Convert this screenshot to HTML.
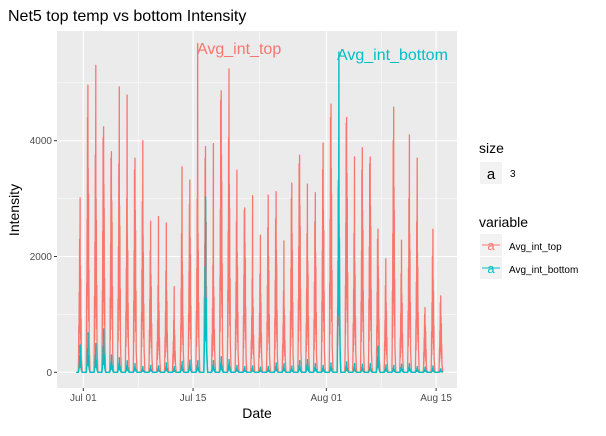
<!DOCTYPE html>
<html><head><meta charset="utf-8"><style>
body{margin:0;background:#fff;font-family:"Liberation Sans",Arial,sans-serif}
svg text{font-family:"Liberation Sans",Arial,sans-serif}
</style></head><body>
<svg id="chart" width="606" height="431">
<text x="8" y="21" font-size="16" fill="#000">Net5 top temp vs bottom Intensity</text>
<rect x="57" y="31" width="400" height="357" fill="#ebebeb"/>
<g id="grid"></g>
<g id="series"></g>
<g id="axes"></g>
<text x="197" y="54" font-size="16" fill="#F8766D">Avg_int_top</text>
<text x="337" y="60" font-size="16" fill="#00BFC4">Avg_int_bottom</text>
<text x="257" y="418" font-size="14" text-anchor="middle">Date</text>
<text x="19" y="210" font-size="14" text-anchor="middle" transform="rotate(-90 19 210)">Intensity</text>
<g>
<text x="479" y="153" font-size="14">size</text>
<rect x="480" y="162" width="22" height="22" fill="#f2f2f2"/>
<text x="491" y="179" font-size="15" text-anchor="middle">a</text>
<text x="510" y="177" font-size="10">3</text>
<text x="479" y="227" font-size="14">variable</text>
<g>
<rect x="480" y="234" width="22" height="22" fill="#f2f2f2"/>
<line x1="482" y1="245" x2="500" y2="245" stroke="#F8766D" stroke-width="1"/>
<text x="491" y="250" font-size="13" text-anchor="middle" fill="#F8766D">a</text>
<text x="509" y="250" font-size="10">Avg_int_top</text></g>
<g>
<rect x="480" y="257" width="22" height="22" fill="#f2f2f2"/>
<line x1="482" y1="268" x2="500" y2="268" stroke="#00BFC4" stroke-width="1"/>
<text x="491" y="273" font-size="13" text-anchor="middle" fill="#00BFC4">a</text>
<text x="509" y="273" font-size="10">Avg_int_bottom</text></g>
</g>
</svg>
<script>
// days starting Jun 30 (day index 0)
const topPeaks=[3010,4960,5300,4240,3810,4930,4790,3700,4000,2610,2690,2580,1480,3550,3320,5680,3900,3950,4860,5240,3490,2840,3050,2370,3060,3120,2270,3270,3750,3250,3100,3960,4630,2720,4400,3720,3880,3720,2470,1960,4580,2280,4100,3700,1120,2470,1320];
const topSecond=[2300,4400,3750,4050,3700,3600,3000,3500,2950,2100,1500,1750,900,2400,2900,3000,3700,1850,4700,4050,2600,2800,1600,1700,2500,2650,1400,3000,3600,2400,2600,3500,4400,3200,4300,2400,3500,3600,2300,1500,4000,1700,3000,2600,1000,2000,1200];
const botPeaks=[470,680,500,750,300,250,200,150,100,120,110,160,100,190,210,200,3030,200,270,220,120,100,110,90,100,160,150,110,200,220,150,120,160,5530,180,150,140,150,450,130,120,140,150,100,90,110,60];
const yTicks=[0,2000,4000];
const xTickLabels=["Jul 01","Jul 15","Aug 01","Aug 15"];
const xTickDays=[1,15,32,46];

const x0=57,x1=457,y0=372.3;
function xs(d){return 83.3+(d-1)*7.84;}
function ys(v){return y0-v*0.0579;}
const NS="http://www.w3.org/2000/svg";
function mk(t,a,p){const e=document.createElementNS(NS,t);for(const k in a)e.setAttribute(k,a[k]);p.appendChild(e);return e;}
const grid=document.getElementById('grid'),axes=document.getElementById('axes'),ser=document.getElementById('series');
[1000,3000,5000].forEach(v=>{const l=mk('line',{x1:x0,x2:x1,y1:ys(v),y2:ys(v),stroke:'#fff','stroke-width':0.5},grid);

});
[8,23.5,39].forEach(d=>{const l=mk('line',{x1:xs(d),x2:xs(d),y1:31,y2:388,stroke:'#fff','stroke-width':0.5},grid);

});
yTicks.forEach(v=>{const l=mk('line',{x1:x0,x2:x1,y1:ys(v),y2:ys(v),stroke:'#fff','stroke-width':1.1},grid);


mk('line',{x1:x0-3,x2:x0,y1:ys(v),y2:ys(v),stroke:'#333'},axes);
const t=mk('text',{x:x0-5,y:ys(v)+3.5,'font-size':10,'text-anchor':'end',fill:'#4d4d4d'},axes);t.textContent=v;

});
xTickDays.forEach((d,i)=>{const l=mk('line',{x1:xs(d),x2:xs(d),y1:31,y2:388,stroke:'#fff','stroke-width':1.1},grid);


mk('line',{x1:xs(d),x2:xs(d),y1:388,y2:391,stroke:'#333'},axes);
const t=mk('text',{x:xs(d),y:401,'font-size':10,'text-anchor':'middle',fill:'#4d4d4d'},axes);t.textContent=xTickLabels[i];

});
function path(peaks,sec,color,w,name,dense){
  let pts=[];
  peaks.forEach((p,i)=>{const s=sec?sec[i]:p*0.6;const d=i+0.1;
    const seq=dense?[[0,0],[0.26,0],[0.3,p*0.1],[0.33,s*0.35],[0.35,s*0.15],[0.38,s*0.6],[0.4,s*0.3],[0.43,s],[0.45,s*0.35],[0.47,p*0.55],[0.49,p],[0.51,p*0.3],[0.53,s*0.8],[0.55,s*0.25],[0.57,s*0.7],[0.59,s*0.2],[0.62,s*0.4],[0.65,p*0.1],[0.7,p*0.05],[0.76,0]]
      :[[0,0],[0.28,0],[0.35,p*0.15],[0.4,s*0.4],[0.44,s],[0.47,s*0.3],[0.5,p],[0.53,p*0.2],[0.57,s*0.7],[0.62,s*0.25],[0.66,p*0.08],[0.75,0]];
    seq.forEach(q=>pts.push([xs(d+q[0]),ys(q[1])]));});
  const e=mk('path',{d:'M'+pts.map(p=>p[0].toFixed(1)+','+p[1].toFixed(1)).join('L'),fill:'none',stroke:color,'stroke-width':w,'stroke-linejoin':'round'},ser);
  
  
}
path(topPeaks,topSecond,'#F8766D',1.3,'series-avg-int-top',true);
path(botPeaks,null,'#00BFC4',1.4,'series-avg-int-bottom',false);
</script>
</body></html>
